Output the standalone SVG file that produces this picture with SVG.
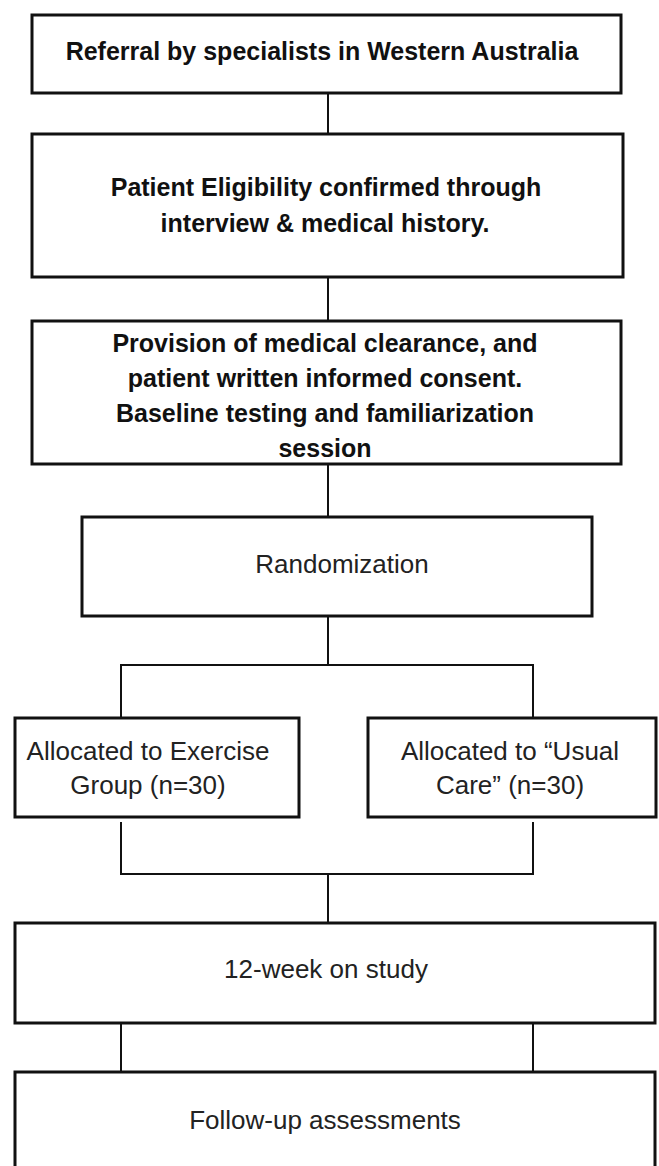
<svg xmlns="http://www.w3.org/2000/svg" width="659" height="1166" viewBox="0 0 659 1166">
<style>
.box{fill:#fff;stroke:#111;stroke-width:3}
.ln{fill:none;stroke:#111;stroke-width:2}
.b{font-family:"Liberation Sans",Arial,sans-serif;font-weight:bold;font-size:25px;fill:#111;text-anchor:middle}
.r{font-family:"Liberation Sans",Arial,sans-serif;font-size:26px;fill:#222;text-anchor:middle}
</style>
<rect width="659" height="1166" fill="#fff"/>
<g id="connectors">
<line class="ln" x1="328" y1="93" x2="328" y2="134"/>
<line class="ln" x1="328" y1="277" x2="328" y2="321"/>
<line class="ln" x1="328" y1="464" x2="328" y2="517"/>
<polyline class="ln" points="121,718 121,665 533,665 533,718"/>
<line class="ln" x1="328" y1="616" x2="328" y2="665"/>
<polyline class="ln" points="121,822 121,874 533,874 533,822"/>
<line class="ln" x1="328" y1="874" x2="328" y2="923"/>
<line class="ln" x1="121" y1="1023" x2="121" y2="1072"/>
<line class="ln" x1="533" y1="1023" x2="533" y2="1072"/>
</g>
<g id="referral">
<rect class="box" x="32" y="15" width="589" height="78"/>
<text class="b" x="322" y="60">Referral by specialists in Western Australia</text>
</g>
<g id="eligibility">
<rect class="box" x="32" y="134" width="591" height="143"/>
<text class="b" x="326" y="196">Patient Eligibility confirmed through</text>
<text class="b" x="325" y="232">interview &amp; medical history.</text>
</g>
<g id="consent">
<rect class="box" x="32" y="321" width="589" height="143"/>
<text class="b" x="325" y="352">Provision of medical clearance, and</text>
<text class="b" x="325" y="387">patient written informed consent.</text>
<text class="b" x="325" y="422">Baseline testing and familiarization</text>
<text class="b" x="325" y="457">session</text>
</g>
<g id="randomization">
<rect class="box" x="82" y="517" width="510" height="99"/>
<text class="r" x="342" y="573">Randomization</text>
</g>
<g id="exercise">
<rect class="box" x="15" y="718" width="284" height="99"/>
<text class="r" x="148" y="760">Allocated to Exercise</text>
<text class="r" x="148" y="794">Group (n=30)</text>
</g>
<g id="usualcare">
<rect class="box" x="368" y="718" width="288" height="99"/>
<text class="r" x="510" y="760">Allocated to “Usual</text>
<text class="r" x="510" y="794">Care” (n=30)</text>
</g>
<g id="study">
<rect class="box" x="15" y="923" width="640" height="100"/>
<text class="r" x="326" y="978">12-week on study</text>
</g>
<g id="followup">
<rect class="box" x="15" y="1072" width="640" height="120"/>
<text class="r" x="325" y="1129">Follow-up assessments</text>
</g>
</svg>
